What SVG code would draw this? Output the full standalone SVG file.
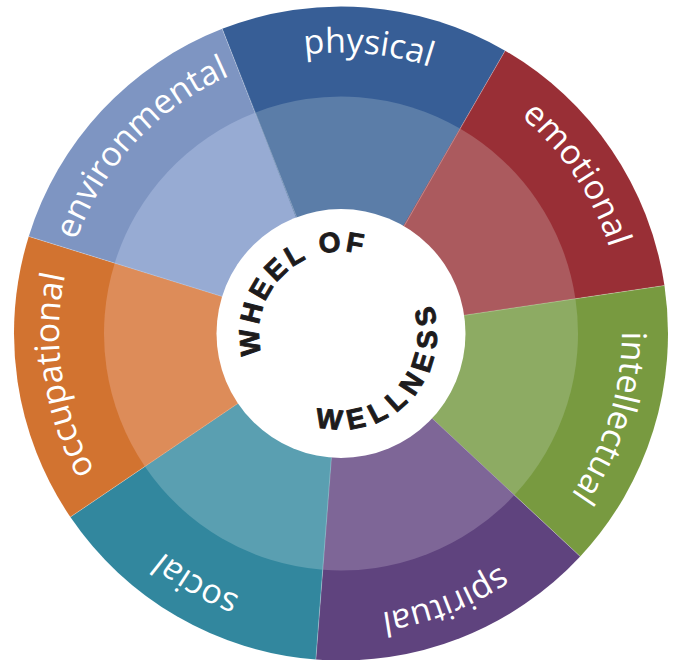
<svg xmlns="http://www.w3.org/2000/svg" xmlns:xlink="http://www.w3.org/1999/xlink" width="673" height="660" viewBox="0 0 673 660">
  <style>
    .label { font-family: "Open Sans", "Liberation Sans", sans-serif; font-size: 34px; fill: #ffffff; }
    .title { font-family: "Liberation Sans", "DejaVu Sans", sans-serif; font-weight: 700; font-size: 28px; fill: #1d1b1c; stroke: #1d1b1c; stroke-width: 0.9px; stroke-linejoin: round; }
    .seam { fill: none; stroke: #ffffff; stroke-opacity: 0.35; stroke-width: 0.8; }
    .physical-out { fill: #375e96; } .physical-in { fill: #5b7da8; }
    .emotional-out { fill: #992f36; } .emotional-in { fill: #ab5a5e; }
    .intellectual-out { fill: #789a40; } .intellectual-in { fill: #8dab63; }
    .spiritual-out { fill: #5f437e; } .spiritual-in { fill: #7e6697; }
    .social-out { fill: #32879e; } .social-in { fill: #5a9fb1; }
    .occupational-out { fill: #d27330; } .occupational-in { fill: #dd8c59; }
    .environmental-out { fill: #7e95c2; } .environmental-in { fill: #97abd3; }
  </style>
  <defs>
    <!-- half-circle baselines (r = 282, clockwise) centred on each segment -->
    <path id="arc-physical" d="M60.30,306.47 A282,282 0 0 1 621.70,360.53"/>
    <path id="arc-emotional" d="M183.31,99.71 A282,282 0 0 1 498.69,567.29"/>
    <path id="arc-intellectual" d="M424.86,64.26 A282,282 0 0 1 257.14,602.74"/>
    <path id="arc-spiritual" d="M603.74,231.06 A282,282 0 0 1 78.26,435.94"/>
    <path id="arc-social" d="M584.97,474.93 A282,282 0 0 1 97.03,192.07"/>
    <path id="arc-occupational" d="M383.17,612.33 A282,282 0 0 1 298.83,54.67"/>
    <path id="arc-environmental" d="M148.68,539.74 A282,282 0 0 1 533.32,127.26"/>
    <!-- hub title baselines: clockwise on top, counter-clockwise below -->
    <path id="arc-top" d="M282.01,390.46 A82,82 0 0 1 399.99,276.54"/>
    <path id="arc-bottom" d="M276.76,404.84 A96,96 0 0 0 405.24,262.16"/>
  </defs>

  <g id="physical">
    <path class="physical-out" d="M341,333.5 L222.22,28.84 A327,327 0 0 1 505.14,50.68 Z"/>
    <path class="physical-in" d="M341,333.5 L254.91,112.69 A237,237 0 0 1 459.96,128.52 Z"/>
    <text class="label" text-anchor="middle"><textPath xlink:href="#arc-physical" href="#arc-physical" startOffset="50%">physical</textPath></text>
  </g>
  <g id="emotional">
    <path class="emotional-out" d="M341,333.5 L505.14,50.68 A327,327 0 0 1 664.46,285.50 Z"/>
    <path class="emotional-in" d="M341,333.5 L459.96,128.52 A237,237 0 0 1 575.43,298.71 Z"/>
    <text class="label" text-anchor="middle"><textPath xlink:href="#arc-emotional" href="#arc-emotional" startOffset="50%">emotional</textPath></text>
  </g>
  <g id="intellectual">
    <path class="intellectual-out" d="M341,333.5 L664.46,285.50 A327,327 0 0 1 580.21,556.45 Z"/>
    <path class="intellectual-in" d="M341,333.5 L575.43,298.71 A237,237 0 0 1 514.37,495.08 Z"/>
    <text class="label" text-anchor="middle"><textPath xlink:href="#arc-intellectual" href="#arc-intellectual" startOffset="50%">intellectual</textPath></text>
  </g>
  <g id="spiritual">
    <path class="spiritual-out" d="M341,333.5 L580.21,556.45 A327,327 0 0 1 315.85,659.53 Z"/>
    <path class="spiritual-in" d="M341,333.5 L514.37,495.08 A237,237 0 0 1 322.77,569.80 Z"/>
    <text class="label" text-anchor="middle"><textPath xlink:href="#arc-spiritual" href="#arc-spiritual" startOffset="50%">spiritual</textPath></text>
  </g>
  <g id="social">
    <path class="social-out" d="M341,333.5 L315.85,659.53 A327,327 0 0 1 70.37,517.05 Z"/>
    <path class="social-in" d="M341,333.5 L322.77,569.80 A237,237 0 0 1 144.86,466.53 Z"/>
    <text class="label" text-anchor="middle"><textPath xlink:href="#arc-social" href="#arc-social" startOffset="50%">social</textPath></text>
  </g>
  <g id="occupational">
    <path class="occupational-out" d="M341,333.5 L70.37,517.05 A327,327 0 0 1 28.74,236.42 Z"/>
    <path class="occupational-in" d="M341,333.5 L144.86,466.53 A237,237 0 0 1 114.69,263.14 Z"/>
    <text class="label" text-anchor="middle"><textPath xlink:href="#arc-occupational" href="#arc-occupational" startOffset="50%">occupational</textPath></text>
  </g>
  <g id="environmental">
    <path class="environmental-out" d="M341,333.5 L28.74,236.42 A327,327 0 0 1 222.22,28.84 Z"/>
    <path class="environmental-in" d="M341,333.5 L114.69,263.14 A237,237 0 0 1 254.91,112.69 Z"/>
    <text class="label" text-anchor="middle"><textPath xlink:href="#arc-environmental" href="#arc-environmental" startOffset="50%">environmental</textPath></text>
  </g>

  <!-- faint seams between neighbouring segments -->
  <g id="seams">
    <path class="seam" d="M296.7,217.5 L222.22,28.84 M404.3,225.8 L505.14,50.68 M464.1,315.3 L664.46,285.50 M432.2,418.4 L580.21,556.45 M331.4,457.7 L315.85,659.53 M237.9,403.4 L70.37,517.05 M222.1,296.5 L28.74,236.42"/>
  </g>

  <g id="hub">
    <circle cx="341" cy="333.5" r="124.5" fill="#ffffff"/>
    <text class="title" text-anchor="middle" letter-spacing="3.4"><textPath xlink:href="#arc-top" href="#arc-top" startOffset="50%">WHEEL OF</textPath></text>
    <text class="title" text-anchor="middle" letter-spacing="7.1"><textPath xlink:href="#arc-bottom" href="#arc-bottom" startOffset="50%">WELLNESS</textPath></text>
  </g>
</svg>
